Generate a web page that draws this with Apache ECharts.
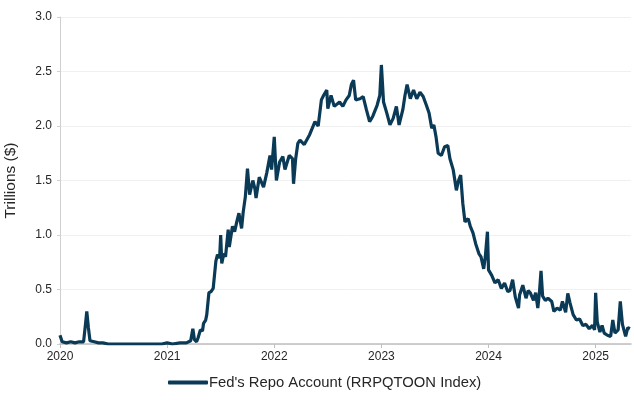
<!DOCTYPE html>
<html>
<head>
    <meta charset="utf-8">
    <title>Fed's Repo Account</title>
    <script src="https://cdn.jsdelivr.net/npm/echarts@6/dist/echarts.min.js"></script>
    <style>
        html, body { margin: 0; padding: 0; background: #fff; }
    </style>
</head>
<body>
    <div id="main" style="width: 634px;height:400px;"></div>
    <script type="text/javascript">
        // dates as decimal years, values in trillions of dollars
        var dates = [
            2020.00, 2020.02, 2020.06, 2020.10, 2020.14, 2020.18, 2020.22, 2020.24, 2020.25, 2020.265,
            2020.28, 2020.32, 2020.36, 2020.40, 2020.45, 2020.60, 2020.80, 2020.95, 2021.00, 2021.05,
            2021.12, 2021.18, 2021.22, 2021.24, 2021.255, 2021.275, 2021.29, 2021.31, 2021.33, 2021.34,
            2021.36, 2021.37, 2021.39, 2021.41, 2021.43, 2021.455, 2021.47, 2021.49, 2021.50, 2021.51,
            2021.53, 2021.545, 2021.57, 2021.58, 2021.61, 2021.63, 2021.65, 2021.67, 2021.695, 2021.71,
            2021.73, 2021.75, 2021.77, 2021.80, 2021.82, 2021.83, 2021.86, 2021.90, 2021.93, 2021.96,
            2021.975, 2022.00, 2022.02, 2022.05, 2022.08, 2022.10, 2022.14, 2022.17, 2022.18, 2022.20,
            2022.22, 2022.24, 2022.28, 2022.33, 2022.38, 2022.41, 2022.44, 2022.46, 2022.49, 2022.50,
            2022.53, 2022.56, 2022.61, 2022.64, 2022.67, 2022.70, 2022.72, 2022.74, 2022.76, 2022.80,
            2022.83, 2022.86, 2022.89, 2022.92, 2022.96, 2022.985, 2023.00, 2023.02, 2023.05, 2023.08,
            2023.11, 2023.14, 2023.165, 2023.20, 2023.22, 2023.24, 2023.27, 2023.30, 2023.33, 2023.36,
            2023.39, 2023.42, 2023.445, 2023.47, 2023.49, 2023.51, 2023.53, 2023.56, 2023.59, 2023.62,
            2023.64, 2023.67, 2023.70, 2023.72, 2023.74, 2023.76, 2023.78, 2023.81, 2023.83, 2023.855,
            2023.88, 2023.91, 2023.93, 2023.955, 2023.97, 2023.99, 2024.00, 2024.03, 2024.06, 2024.09,
            2024.12, 2024.15, 2024.18, 2024.20, 2024.225, 2024.25, 2024.28, 2024.29, 2024.32, 2024.35,
            2024.37, 2024.39, 2024.42, 2024.44, 2024.46, 2024.475, 2024.49, 2024.505, 2024.53, 2024.555,
            2024.59, 2024.61, 2024.64, 2024.67, 2024.69, 2024.72, 2024.74, 2024.76, 2024.79, 2024.82,
            2024.85, 2024.88, 2024.91, 2024.94, 2024.97, 2024.99, 2025.00, 2025.015, 2025.04, 2025.06,
            2025.08, 2025.11, 2025.14, 2025.16, 2025.18, 2025.21, 2025.23, 2025.25, 2025.28, 2025.30,
            2025.32
        ];
        var repo = [
            0.08, 0.02, 0.01, 0.02, 0.01, 0.02, 0.02, 0.20, 0.30, 0.15,
            0.03, 0.02, 0.01, 0.01, 0.00, 0.00, 0.00, 0.00, 0.01, 0.00,
            0.01, 0.01, 0.03, 0.14, 0.04, 0.02, 0.06, 0.13, 0.12, 0.19,
            0.22, 0.27, 0.47, 0.48, 0.51, 0.76, 0.82, 0.79, 1.00, 0.74,
            0.83, 0.80, 1.05, 0.89, 1.08, 1.03, 1.12, 1.20, 1.06, 1.21,
            1.35, 1.61, 1.37, 1.50, 1.42, 1.34, 1.53, 1.44, 1.57, 1.73,
            1.60, 1.90, 1.50, 1.67, 1.72, 1.60, 1.73, 1.70, 1.47, 1.70,
            1.84, 1.87, 1.83, 1.92, 2.04, 2.00, 2.24, 2.28, 2.33, 2.16,
            2.28, 2.18, 2.22, 2.18, 2.24, 2.28, 2.38, 2.42, 2.24, 2.25,
            2.27, 2.15, 2.04, 2.09, 2.19, 2.28, 2.56, 2.22, 2.12, 2.01,
            2.07, 2.18, 2.01, 2.15, 2.28, 2.38, 2.25, 2.33, 2.25, 2.31,
            2.27, 2.19, 2.12, 1.98, 2.01, 1.90, 1.75, 1.73, 1.81, 1.82,
            1.70, 1.60, 1.41, 1.50, 1.55, 1.29, 1.12, 1.15, 1.08, 1.02,
            0.92, 0.83, 0.80, 0.69, 0.80, 1.03, 0.68, 0.63, 0.56, 0.59,
            0.51, 0.56, 0.48, 0.49, 0.59, 0.43, 0.33, 0.45, 0.54, 0.42,
            0.49, 0.47, 0.40, 0.47, 0.33, 0.47, 0.67, 0.44, 0.40, 0.42,
            0.39, 0.30, 0.33, 0.31, 0.39, 0.29, 0.465, 0.38, 0.27, 0.22,
            0.23, 0.17, 0.18, 0.14, 0.17, 0.13, 0.47, 0.20, 0.11, 0.17,
            0.10, 0.08, 0.07, 0.22, 0.10, 0.13, 0.39, 0.18, 0.07, 0.15,
            0.14
        ];
        var yearTicks = [2020, 2021, 2022, 2023, 2024, 2025];
        var seriesName = "Fed's Repo Account (RRPQTOON Index)";

        var points = dates.map(function (d, i) { return [d, repo[i]]; });

        var myChart = echarts.init(document.getElementById('main'));
        myChart.setOption({
            animation: false,
            textStyle: { fontFamily: 'Liberation Sans, Arial, sans-serif' },
            grid: {
                left: 60, right: 3, top: 17, bottom: 56,
                containLabel: false,
                outerBoundsMode: 'none'
            },
            legend: {
                bottom: 5,
                left: 163,
                icon: 'roundRect',
                itemWidth: 40,
                itemHeight: 4,
                itemGap: 10,
                textStyle: { fontSize: 14.8, color: '#262626', padding: [0, 0, 0, -4] },
                data: [seriesName]
            },
            xAxis: {
                type: 'value',
                min: 2020,
                max: 2025.33,
                interval: 1,
                splitLine: { show: false },
                axisLine: { lineStyle: { color: '#BFBFBF', width: 1.5 } },
                axisTick: { show: true, length: 4, lineStyle: { color: '#BFBFBF' } },
                axisLabel: {
                    color: '#262626',
                    fontSize: 12,
                    margin: 7,
                    showMaxLabel: false,
                    formatter: function (v) {
                        return yearTicks.indexOf(v) >= 0 ? String(v) : '';
                    }
                }
            },
            yAxis: {
                type: 'value',
                min: 0,
                max: 3,
                interval: 0.5,
                name: 'Trillions ($)',
                nameLocation: 'middle',
                nameGap: 41,
                nameTextStyle: { fontSize: 15.5, color: '#262626' },
                axisLine: { show: true, lineStyle: { color: '#D0D0D0' } },
                axisTick: { show: true, length: 3, lineStyle: { color: '#D0D0D0' } },
                splitLine: { lineStyle: { color: '#F0F0F0' } },
                axisLabel: {
                    color: '#262626',
                    fontSize: 12,
                    margin: 8,
                    formatter: function (v) { return v.toFixed(1); }
                }
            },
            series: [{
                name: seriesName,
                type: 'line',
                data: points,
                symbol: 'none',
                lineStyle: { color: '#0B3A57', width: 3.2 },
                itemStyle: { color: '#0B3A57' }
            }]
        });
    </script>
</body>
</html>
